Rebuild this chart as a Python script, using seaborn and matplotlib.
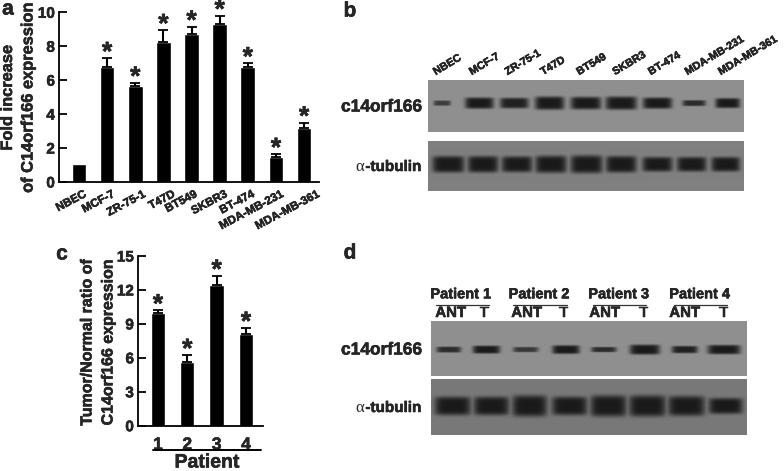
import numpy as np
import pandas as pd
import matplotlib
matplotlib.use("Agg")
import matplotlib.pyplot as plt
import matplotlib.patheffects as pe
import seaborn as sns

# -------------------------------------------------------------------
# Values
# -------------------------------------------------------------------

cell_lines = ["NBEC", "MCF-7", "ZR-75-1", "T47D", "BT549", "SKBR3", "BT-474",
              "MDA-MB-231", "MDA-MB-361"]
fold_increase = [1.05, 6.8, 5.65, 8.25, 8.7, 9.3, 6.8, 1.5, 3.2]
fold_error = [0, 0.5, 0.2, 0.7, 0.45, 0.5, 0.2, 0.15, 0.3]
fold_stars = [False, True, True, True, True, True, True, True, True]

patients = ["1", "2", "3", "4"]
tumor_ratio = [9.95, 5.6, 12.45, 8.1]
tumor_error = [0.25, 0.65, 0.8, 0.55]

# blot bands, lane centre / half width / half height / darkness (in zoomed crop units)
b_top_lanes = [305, 417, 522, 628, 737, 843, 952, 1062, 1163]
b_top_width = [26, 43, 43, 44, 46, 47, 44, 35, 37]
b_top_height = [8, 17, 16, 20, 19, 20, 17, 9, 15]
b_top_dark = [0.7, 1.0, 0.95, 1.0, 1.0, 1.0, 1.0, 0.85, 1.0]
b_tub_lanes = [324, 428, 530, 632, 739, 843, 952, 1055, 1157]
b_tub_width = [48, 46, 46, 47, 48, 46, 45, 44, 43]
b_tub_height = [25, 25, 24, 26, 27, 25, 22, 22, 22]

d_top_lanes = [325, 438, 556, 677, 791, 914, 1034, 1152]
d_top_width = [37, 41, 38, 41, 38, 45, 39, 49]
d_top_height = [9, 12, 8, 13, 8, 15, 11, 14]
d_top_dark = [0.85, 1.0, 0.75, 1.0, 0.85, 1.0, 0.95, 1.0]
d_tub_lanes = [337, 453, 568, 688, 805, 922, 1039, 1157]
d_tub_width = [54, 53, 52, 53, 54, 55, 55, 51]
d_tub_height = [28, 28, 32, 28, 32, 32, 30, 24]

patient_names = ["Patient 1", "Patient 2", "Patient 3", "Patient 4"]

# -------------------------------------------------------------------
# Setup
# -------------------------------------------------------------------

sns.set_theme(style="white")
plt.rcParams["font.family"] = ["Liberation Sans", "DejaVu Sans"]
plt.rcParams["font.weight"] = "bold"

W, H = 784, 471
fig = plt.figure(figsize=(W / 100, H / 100), dpi=100)


def px_axes(x0, y0, x1, y1):
    # pixel box, y counted from the top of the picture
    return fig.add_axes([x0 / W, 1 - y1 / H, (x1 - x0) / W, (y1 - y0) / H])


def bar_panel(ax, cats, vals, errs, ymax, yticks, xlim, width):
    df = pd.DataFrame({"cat": cats, "val": vals})
    sns.barplot(data=df, x="cat", y="val", color="black", width=width,
                saturation=1, ax=ax, order=cats)
    pos = np.arange(len(cats))
    keep = np.array(errs) > 0
    ax.errorbar(pos[keep], np.array(vals)[keep],
                yerr=[np.zeros(keep.sum()), np.array(errs)[keep]],
                fmt="none", ecolor="black", elinewidth=1.5, capsize=3.6, capthick=1.3)
    ax.set_xlim(*xlim)
    ax.set_ylim(0, ymax)
    ax.set_yticks(yticks)
    ax.set_xlabel("")
    ax.set_ylabel("")
    ax.patch.set_alpha(0)
    sns.despine(ax=ax)
    for s in ["left", "bottom"]:
        ax.spines[s].set_linewidth(1.3)
        ax.spines[s].set_color("black")
    # ticks point into the plot on both bar panels
    ax.tick_params(axis="y", left=True, direction="in", length=6, width=1.3,
                   labelsize=11, pad=3, color="black")
    ax.tick_params(axis="x", bottom=False)


def blot(x0, y0, x1, y1, lanes, widths, heights, darks, bg, cy, crop_x0, crop_y0):
    # soft gray membrane with dark bands, drawn as a heatmap
    ax = px_axes(x0, y0, x1, y1)
    nx, ny = int((x1 - x0) * 2), int((y1 - y0) * 2)
    xs = np.linspace(x0, x1, nx)
    ys = np.linspace(y0, y1, ny)
    xx, yy = np.meshgrid(xs, ys)
    img = np.full(xx.shape, bg, dtype=float)
    for c, w, h, d in zip(lanes, widths, heights, darks):
        cx = crop_x0 + c / 3
        band = np.exp(-np.abs((xx - cx) / (w / 3)) ** 6 - np.abs((yy - (crop_y0 + cy / 3)) / (h / 3)) ** 5)
        img = np.minimum(img, bg - (bg - 0.1) * d * band)
    sns.heatmap(img, ax=ax, cmap="gray", vmin=0, vmax=1, cbar=False,
                xticklabels=False, yticklabels=False, rasterized=True)
    return ax


# -------------------------------------------------------------------
# a - fold increase
# -------------------------------------------------------------------

ax_a = px_axes(59, 12.3, 319, 182)
bar_panel(ax_a, cell_lines, fold_increase, fold_error, 10, [0, 2, 4, 6, 8, 10],
          (-0.71, 8.53), 0.52)
ax_a.set_xticks(range(len(cell_lines)))
ax_a.set_xticklabels([])
# labels do not sit evenly under the bars in the reference
label_shift = [3.7, 4, 7, 8, 2, 4, 3, 4, 12]
for i, name in enumerate(cell_lines):
    ax_a.annotate(name, xy=(i, 0), xycoords=("data", "axes fraction"),
                  xytext=(label_shift[i] * 0.72, -4.5),
                  textcoords="offset points", rotation=28, ha="right", va="top",
                  rotation_mode="anchor", fontsize=8.3, fontweight="bold")
    if fold_stars[i]:
        ax_a.annotate("*", xy=(i, fold_increase[i] + fold_error[i]), xytext=(0, -5),
                      textcoords="offset points", ha="center", va="bottom",
                      fontsize=19, fontweight="bold", annotation_clip=False)

fig.text(7.5 / W, 1 - 98 / H, "Fold increase", rotation=90, ha="center", va="center", fontsize=11.8)
fig.text(28 / W, 1 - 98 / H, "of C14orf166 expression", rotation=90, ha="center", va="center", fontsize=11.8)

# -------------------------------------------------------------------
# c - tumor / normal ratio
# -------------------------------------------------------------------

ax_c = px_axes(138, 256, 263, 425.7)
bar_panel(ax_c, patients, tumor_ratio, tumor_error, 15, [0, 3, 6, 9, 12, 15],
          (-0.68, 3.58), 0.49)
ax_c.set_xticks(range(len(patients)))
ax_c.set_xticklabels(patients, fontsize=12.5, fontweight="bold")
ax_c.tick_params(axis="x", pad=2.5)
for i in range(len(patients)):
    ax_c.annotate("*", xy=(i, tumor_ratio[i] + tumor_error[i]), xytext=(0, -5),
                  textcoords="offset points", ha="center", va="bottom",
                  fontsize=19, fontweight="bold", annotation_clip=False)

fig.text(87 / W, 1 - 342 / H, "Tumor/Normal ratio of", rotation=90, ha="center", va="center", fontsize=11.5)
fig.text(108 / W, 1 - 342 / H, "C14orf166 expression", rotation=90, ha="center", va="center", fontsize=11.5)
fig.add_artist(plt.Line2D([153 / W, 261 / W], [1 - 450 / H, 1 - 450 / H], color="black", lw=1.4))
fig.text(207 / W, 1 - 463 / H, "Patient", ha="center", va="center", fontsize=14)

# -------------------------------------------------------------------
# b - blot
# -------------------------------------------------------------------

blot(428, 80, 744, 132, b_top_lanes, b_top_width, b_top_height, b_top_dark, 0.56, 310, 340, 0)
blot(428, 141, 744, 191, b_tub_lanes, b_tub_width, b_tub_height, [1.0] * 9, 0.5, 492, 340, 0)
for cx, name in zip([290, 398, 505, 612, 720, 828, 935, 1045, 1145], cell_lines):
    fig.text((340 + cx / 3) / W, 1 - 77 / H, name, rotation=31, ha="left", va="bottom",
             rotation_mode="anchor", fontsize=7.8)

# -------------------------------------------------------------------
# d - blot
# -------------------------------------------------------------------

blot(431, 321, 747, 376, d_top_lanes, d_top_width, d_top_height, d_top_dark, 0.56, 328, 340, 240)
blot(431, 379, 747, 435, d_tub_lanes, d_tub_width, d_tub_height, [1.0] * 8, 0.47, 497, 340, 240)

for name, cx in zip(patient_names, [362, 597, 836, 1079]):
    fig.text((340 + cx / 3) / W, 1 - (240 + 163 / 3) / H, name, ha="center", va="center", fontsize=10.5)
for cx in [368, 600, 838, 1081]:
    fig.add_artist(plt.Line2D([(340 + (cx - 80) / 3) / W, (340 + (cx + 80) / 3) / W],
                              [1 - (240 + 194 / 3) / H] * 2, color="#333333", lw=0.9))
for lab, cx in zip(["ANT", "T"] * 4, [332, 433, 560, 671, 794, 911, 1034, 1151]):
    fig.text((340 + cx / 3) / W, 1 - (240 + 219 / 3) / H, lab, ha="center", va="center", fontsize=10.8)

# blot row labels
for y in [107, 350]:
    fig.text(422 / W, 1 - y / H, "c14orf166", ha="right", va="center", fontsize=12.5)
for y in [167, 408]:
    fig.text(422 / W, 1 - y / H, "-tubulin", ha="right", va="center", fontsize=11)
    fig.text(360 / W, 1 - y / H, "α", ha="center", va="center", fontsize=12,
             family="Liberation Serif", fontweight="normal")

# panel letters
for lab, x, y in [("a", 8, 9), ("b", 350, 11), ("c", 62, 254), ("d", 350, 253)]:
    fig.text(x / W, 1 - y / H, lab, ha="center", va="center", fontsize=15)

# the reference type is heavier than plain bold
for t in fig.findobj(matplotlib.text.Text):
    if t.get_text() and t.get_text() != "α":
        t.set_path_effects([pe.withStroke(linewidth=0.35, foreground="black")])

fig.savefig("out.png", dpi=100)
